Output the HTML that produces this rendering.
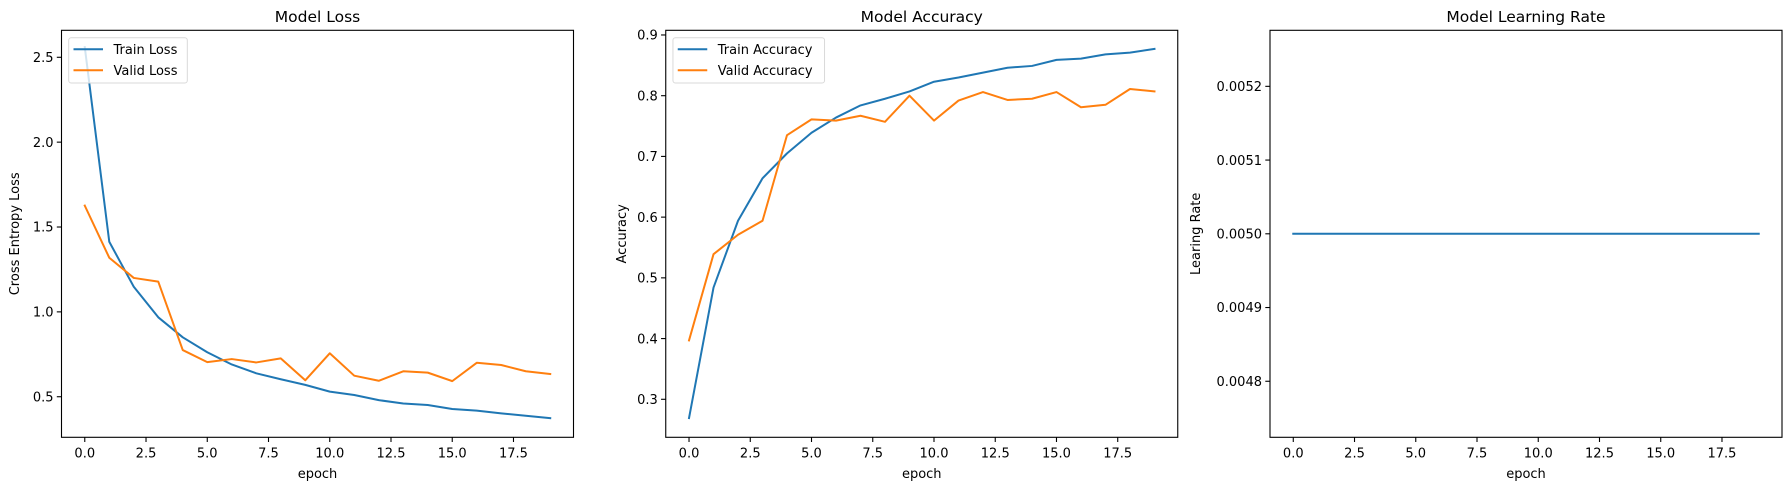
<!DOCTYPE html>
<html><head><meta charset="utf-8"><style>
html,body{margin:0;padding:0;background:#fff;}
svg{display:block;font-family:"DejaVu Sans","Liberation Sans",sans-serif;}
</style></head><body>
<svg id="fig" width="1790" height="490" viewBox="0 0 1790 490" xmlns="http://www.w3.org/2000/svg"></svg>
<script>
const epochs = [0,1,2,3,4,5,6,7,8,9,10,11,12,13,14,15,16,17,18,19];
const trainLoss = [2.56,1.413,1.148,0.968,0.85,0.762,0.69,0.638,0.603,0.57,0.53,0.51,0.48,0.46,0.451,0.428,0.418,0.402,0.388,0.374];
const validLoss = [1.626,1.319,1.20,1.178,0.775,0.704,0.722,0.702,0.726,0.597,0.756,0.624,0.594,0.65,0.642,0.592,0.70,0.687,0.65,0.634];
const trainAcc = [0.269,0.484,0.594,0.664,0.705,0.739,0.764,0.784,0.795,0.807,0.823,0.830,0.838,0.846,0.849,0.859,0.861,0.868,0.871,0.877];
const validAcc = [0.397,0.539,0.571,0.594,0.735,0.761,0.759,0.767,0.757,0.800,0.759,0.792,0.806,0.793,0.795,0.806,0.781,0.785,0.811,0.807];
const learningRate = [0.005,0.005,0.005,0.005,0.005,0.005,0.005,0.005,0.005,0.005,0.005,0.005,0.005,0.005,0.005,0.005,0.005,0.005,0.005,0.005];
const xTicks = [0,2.5,5,7.5,10,12.5,15,17.5];
const xTickLabels = ["0.0","2.5","5.0","7.5","10.0","12.5","15.0","17.5"];
const lossTicks = [0.5,1.0,1.5,2.0,2.5];
const lossTickLabels = ["0.5","1.0","1.5","2.0","2.5"];
const accTicks = [0.3,0.4,0.5,0.6,0.7,0.8,0.9];
const accTickLabels = ["0.3","0.4","0.5","0.6","0.7","0.8","0.9"];
const lrTicks = [0.0048,0.0049,0.0050,0.0051,0.0052];
const lrTickLabels = ["0.0048","0.0049","0.0050","0.0051","0.0052"];

const NS = "http://www.w3.org/2000/svg";
const svg = document.getElementById('fig');
function mk(tag, attrs, parent){ const e=document.createElementNS(NS,tag); for(const k in attrs) e.setAttribute(k,attrs[k]); (parent||svg).appendChild(e); return e; }
const TOP=30.3, BOT=437.3, W=512;
const BLUE="#1f77b4", ORANGE="#ff7f0e";

function panel(left, name, title, ylabel, ymin, ymax, yt, ytl, series, legend, ylabX){
  const g = mk('g',{});
  
  
  const xmin=-0.95, xmax=19.95;
  const sx = v => left + (v - xmin) / (xmax - xmin) * W;
  const sy = v => BOT - (v - ymin) / (ymax - ymin) * (BOT - TOP);
  series.forEach(s => {
    const pts = s.data.map((v,i)=> sx(epochs[i]).toFixed(2)+','+sy(v).toFixed(2)).join(' ');
    const pl = mk('polyline',{points:pts,fill:'none',stroke:s.color,'stroke-width':2,'stroke-linejoin':'round','stroke-linecap':'square'},g);
    
    
  });
  const frame = mk('rect',{x:left,y:TOP,width:W,height:BOT-TOP,fill:'none',stroke:'#000','stroke-width':1.1},g);
  
  
  xTicks.forEach((t,i)=>{
    const x=sx(t);
    mk('line',{x1:x,x2:x,y1:BOT,y2:BOT+4.7,stroke:'#000','stroke-width':1.1},g);
    const tx = mk('text',{x:x,y:BOT+20,'font-size':13,'text-anchor':'middle',fill:'#000'},g);
    tx.textContent = xTickLabels[i];
    
    
  });
  yt.forEach((t,i)=>{
    const y=sy(t);
    mk('line',{x1:left-4.7,x2:left,y1:y,y2:y,stroke:'#000','stroke-width':1.1},g);
    const tx = mk('text',{x:left-8,y:y+4.7,'font-size':13,'text-anchor':'end',fill:'#000'},g);
    tx.textContent = ytl[i];
    
    
  });
  const tt = mk('text',{x:left+W/2,y:22,'font-size':15.5,'text-anchor':'middle',fill:'#000'},g);
  tt.textContent = title;
  
  
  const xl = mk('text',{x:left+W/2,y:478,'font-size':13,'text-anchor':'middle',fill:'#000'},g);
  xl.textContent = 'epoch';
  
  
  const yc=(TOP+BOT)/2;
  const yl = mk('text',{x:ylabX,y:yc,'font-size':13,'text-anchor':'middle',fill:'#000',transform:`rotate(-90 ${ylabX} ${yc})`},g);
  yl.textContent = ylabel;
  
  
  if(legend){
    const lg = mk('g',{},g);
    
    
    mk('rect',{x:left+7.2,y:37.7,width:legend.w,height:45.3,rx:2.5,fill:'#fff','fill-opacity':0.8,stroke:'#d9d9d9','stroke-width':1},lg);
    series.forEach((s,i)=>{
      const y = 49.3 + i*21;
      mk('line',{x1:left+12,x2:left+41.5,y1:y,y2:y,stroke:s.color,'stroke-width':2},lg);
      const t = mk('text',{x:left+52,y:y+4.8,'font-size':13,fill:'#000'},lg);
      t.textContent = s.label;
      
      
    });
  }
}
panel(61.5,'loss-panel','Model Loss','Cross Entropy Loss',0.261,2.659,lossTicks,lossTickLabels,
  [{data:trainLoss,color:BLUE,name:'train-loss-line',label:'Train Loss'},{data:validLoss,color:ORANGE,name:'valid-loss-line',label:'Valid Loss'}],
  {w:118.6}, 19);
panel(665.75,'accuracy-panel','Model Accuracy','Accuracy',0.2374,0.9077,accTicks,accTickLabels,
  [{data:trainAcc,color:BLUE,name:'train-accuracy-line',label:'Train Accuracy'},{data:validAcc,color:ORANGE,name:'valid-accuracy-line',label:'Valid Accuracy'}],
  {w:151.6}, 626);
panel(1270,'learning-rate-panel','Model Learning Rate','Learing Rate',0.004724,0.005276,lrTicks,lrTickLabels,
  [{data:learningRate,color:BLUE,name:'learning-rate-line',label:'LR'}],
  null, 1200);
</script>
</body></html>
